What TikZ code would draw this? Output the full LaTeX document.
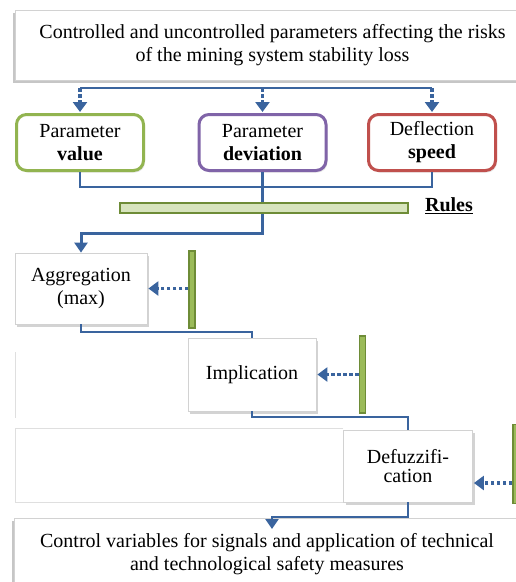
\documentclass[tikz,border=0pt]{standalone}
\usepackage{fontspec}
\setmainfont{Liberation Serif}
\usetikzlibrary{arrows.meta,shadows,calc}
\definecolor{lnblue}{RGB}{58,100,158}
\definecolor{bgreen}{RGB}{146,180,80}
\definecolor{bpurple}{RGB}{128,100,168}
\definecolor{bred}{RGB}{192,80,77}
\definecolor{rulefill}{RGB}{215,228,189}
\definecolor{gdark}{RGB}{110,140,55}
\definecolor{gfill}{RGB}{155,187,89}
\begin{document}
\begin{tikzpicture}[x=1pt,y=-1pt,
  font=\fontsize{20}{23}\selectfont,
  plainbox/.style={draw=gray!35, line width=0.8pt, fill=white, align=center, inner sep=2pt},
  shadR/.style={drop shadow={shadow xshift=2pt, shadow yshift=-2.5pt, opacity=0.35}},
  shadL/.style={drop shadow={shadow xshift=-2.5pt, shadow yshift=-2.5pt, opacity=0.45}},
  rbox/.style={draw, line width=3pt, rounded corners=10pt, fill=white, align=center,
    minimum width=127pt, minimum height=56pt, inner sep=2pt,
    drop shadow={shadow xshift=1.5pt, shadow yshift=-2pt, opacity=0.2}},
  gbar/.style={draw=gdark, fill=gfill, line width=1.2pt, inner sep=0pt, minimum width=6pt},
  ln/.style={draw=lnblue, line width=2.2pt},
  lnthick/.style={draw=lnblue, line width=3pt},
  arr/.style={-{Triangle[width=13pt,length=10pt]}},
  dotarr/.style={draw=lnblue, line width=3.2pt, dash pattern=on 3.5pt off 2.5pt,
    -{Triangle[width=14pt,length=10pt]}, shorten >=1pt},
  faint/.style={draw=gray!25, line width=1pt}
]
\path[use as bounding box] (0,0) rectangle (516,582);
\clip (0,0) rectangle (516,582);

% faint background outlines
\draw[faint] (15,352) -- (15,418);
\draw[faint] (343,428) -- (15,428) -- (15,502) -- (343,502);

% boxes
\node[plainbox, shadL, minimum width=515pt, minimum height=70pt] (top) at (272.5,45)
  {Controlled and uncontrolled parameters affecting the risks\\of the mining system stability loss};
\node[rbox, draw=bgreen] (p1) at (80,142.5) {Parameter\\\textbf{value}};
\node[rbox, draw=bpurple] (p2) at (262.5,142.5) {Parameter\\\textbf{deviation}};
\node[rbox, draw=bred] (p3) at (432,142.5) {Deflection\\\textbf{speed}};

\node[plainbox, shadR, minimum width=132pt, minimum height=71pt] (agg) at (81,288.5)
  {Aggregation\\(max)};
\node[plainbox, shadR, minimum width=128pt, minimum height=73pt] (impl) at (252,374.5)
  {Implication};
\node[plainbox, shadR, minimum width=129pt, minimum height=72pt, font=\fontsize{20}{19}\selectfont] (def) at (408,466)
  {Defuzzifi-\\cation};
\node[plainbox, shadL, minimum width=506pt, minimum height=72pt] (bot) at (267,554)
  {Control variables for signals and application of technical\\and technological safety measures};

% helper coordinates
\coordinate (yTop) at (0,88);
\coordinate (yJ1) at (0,187);
\coordinate (yR) at (0,208);
\coordinate (yJ2) at (0,233);
\coordinate (yJ3) at (0,332);
\coordinate (yJ4) at (0,417);
\coordinate (yJ5) at (0,517);
\coordinate (yDef) at (0,483);
\coordinate (outin) at (272,529);

% top distribution
\draw[ln] (p1.north |- yTop) -- (p3.north |- yTop);
\foreach \n in {p1,p2,p3}
  \draw[dotarr] (\n.north |- yTop) -- (\n.north);

% collection below boxes
\draw[ln] (p1.south) |- (p3.south |- yJ1) -- (p3.south);
\draw[ln] (p2.south) -- (p2.south |- yR);
\draw[lnthick, arr] (p2.south |- yR) -- (p2.south |- yJ2) -| (agg.north);

% rules bar
\node[gbar, draw=gdark, fill=rulefill, line width=1.5pt, minimum width=288pt, minimum height=10pt] (rules) at (264,208) {};
\node[font=\fontsize{20}{23}\selectfont\bfseries] (rlabel) at (449,206) {\underline{Rules}};

% chain
\draw[ln] (agg.south) |- (impl.north |- yJ3) -- (impl.north);
\draw[ln] (impl.south) |- (def.north |- yJ4) -- (def.north);
\draw[ln, arr] (def.south) |- (outin |- yJ5) -- (outin);

% side bars
\node[gbar, minimum height=77pt] (g1) at (192,289.5) {};
\node[gbar, minimum height=77pt] (g2) at (362.5,374.5) {};
\node[gbar, minimum height=79pt] (g3) at (516,464) {};

\draw[dotarr] (g1.west |- agg.east) -- (agg.east);
\draw[dotarr] (g2.west |- impl.east) -- (impl.east);
\draw[dotarr] (g3.west |- yDef) -- (def.east |- yDef);
\end{tikzpicture}
\end{document}
